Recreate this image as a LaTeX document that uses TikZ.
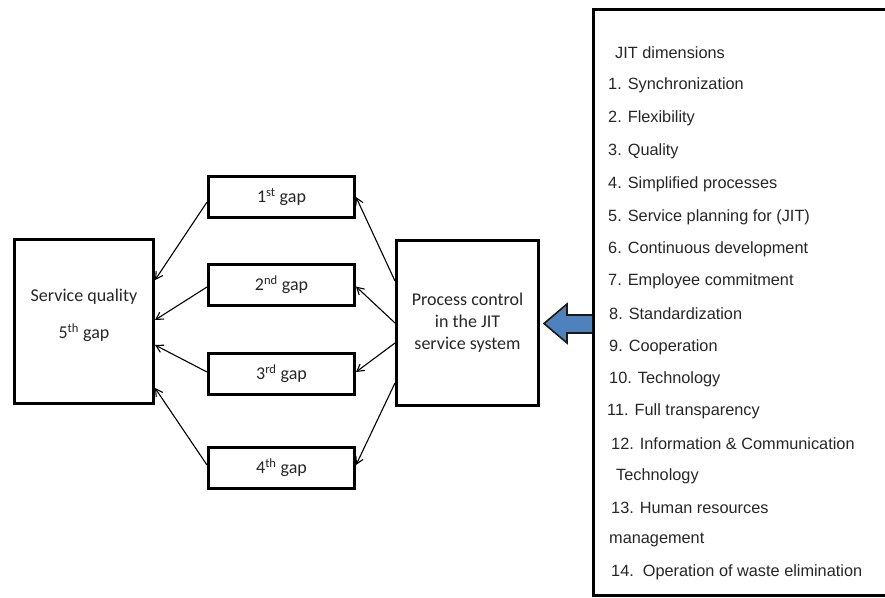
\documentclass[tikz,border=0pt]{standalone}
\usepackage{fontspec}
\setmainfont{Carlito}
\newfontfamily\listfont{Liberation Sans}
\usetikzlibrary{arrows.meta}
\definecolor{arrowblue}{HTML}{4F81BD}
\tikzset{
  box/.style={draw=black, line width=3pt, rectangle, inner sep=0pt, align=center,
    font=\fontsize{18}{22}\selectfont, text=black!85},
  gapbox/.style={box, minimum width=146pt, minimum height=41pt},
  conn/.style={line width=1.1pt, -{Straight Barb[length=7pt,width=8pt]}},
  item/.style={anchor=west, inner sep=0pt, font=\listfont\fontsize{16.3}{18}\selectfont, text=black!85}
}
\begin{document}
\begin{tikzpicture}[x=1pt,y=-1pt]
\useasboundingbox (0,0) rectangle (885,597);
\begin{scope}
\clip (0,0) rectangle (885,597);
\node[minimum width=320pt, minimum height=586pt, inner sep=0pt, outer sep=0pt] (jit) at (753,302) {};
\draw[line width=3pt] (jit.north east) -- (jit.north west) -- (jit.south west) -- (jit.south east);
\end{scope}

\node[box, minimum width=139pt, minimum height=164pt] (sq) at (84,321.5) {};
\node[text=black!85] (sqa) at (84,297) {\fontsize{18}{22}\selectfont Service quality};
\node[text=black!85] (sqb) at (84,333) {\fontsize{18}{22}\selectfont 5\textsuperscript{th} gap};

\node[box, minimum width=142pt, minimum height=165pt] (p) at (467.5,323) {Process control\\in the JIT\\service system};

\node[gapbox] (g1) at (281.5,197) {1\textsuperscript{st} gap};
\node[gapbox] (g2) at (281.5,284.5) {2\textsuperscript{nd} gap};
\node[gapbox] (g3) at (281.5,374) {3\textsuperscript{rd} gap};
\node[gapbox] (g4) at (281.5,467.5) {4\textsuperscript{th} gap};

\draw[conn] ([yshift=42pt]p.west) -- (g1.east);
\draw[conn] (p.west) -- ([yshift=-2pt]g2.east);
\draw[conn] ([yshift=-20pt]p.west) -- ([yshift=2pt]g3.east);
\draw[conn] ([yshift=-60pt]p.west) -- ([yshift=2.5pt]g4.east);

\draw[conn] ([yshift=-5pt]g1.west) -- ([yshift=41.5pt]sq.east);
\draw[conn] ([yshift=-2.5pt]g2.west) -- ([yshift=1.5pt]sq.east);
\draw[conn] ([yshift=2pt]g3.west) -- ([yshift=-23.5pt]sq.east);
\draw[conn] ([yshift=2.5pt]g4.west) -- ([yshift=-66.5pt]sq.east);

\draw[fill=arrowblue, draw=black!90, line width=1.6pt, line join=miter]
  (592,315) -- (567,315) -- (567,304) -- (544,323.5) -- (567,343) -- (567,333) -- (592,333);

\node[item] (t0) at (615,53) {JIT dimensions};
\node[item] (t1) at (608,85) {1. Synchronization};
\node[item] (t2) at (608,118) {2. Flexibility};
\node[item] (t3) at (608,151) {3. Quality};
\node[item] (t4) at (608,184) {4. Simplified processes};
\node[item] (t5) at (608,217) {5. Service planning for (JIT)};
\node[item] (t6) at (608,249) {6. Continuous development};
\node[item] (t7) at (608,281) {7. Employee commitment};
\node[item] (t8) at (609,314) {8. Standardization};
\node[item] (t9) at (609,347) {9. Cooperation};
\node[item] (t10) at (609,379) {10. Technology};
\node[item] (t11) at (607,411) {11. Full transparency};
\node[item] (t12) at (611,444) {12. Information \& Communication};
\node[item] (t12b) at (616,476) {Technology};
\node[item] (t13) at (611,508) {13. Human resources};
\node[item] (t13b) at (609,540) {management};
\node[item] (t14) at (611,572) {14.\ \ Operation of waste elimination};
\end{tikzpicture}
\end{document}
